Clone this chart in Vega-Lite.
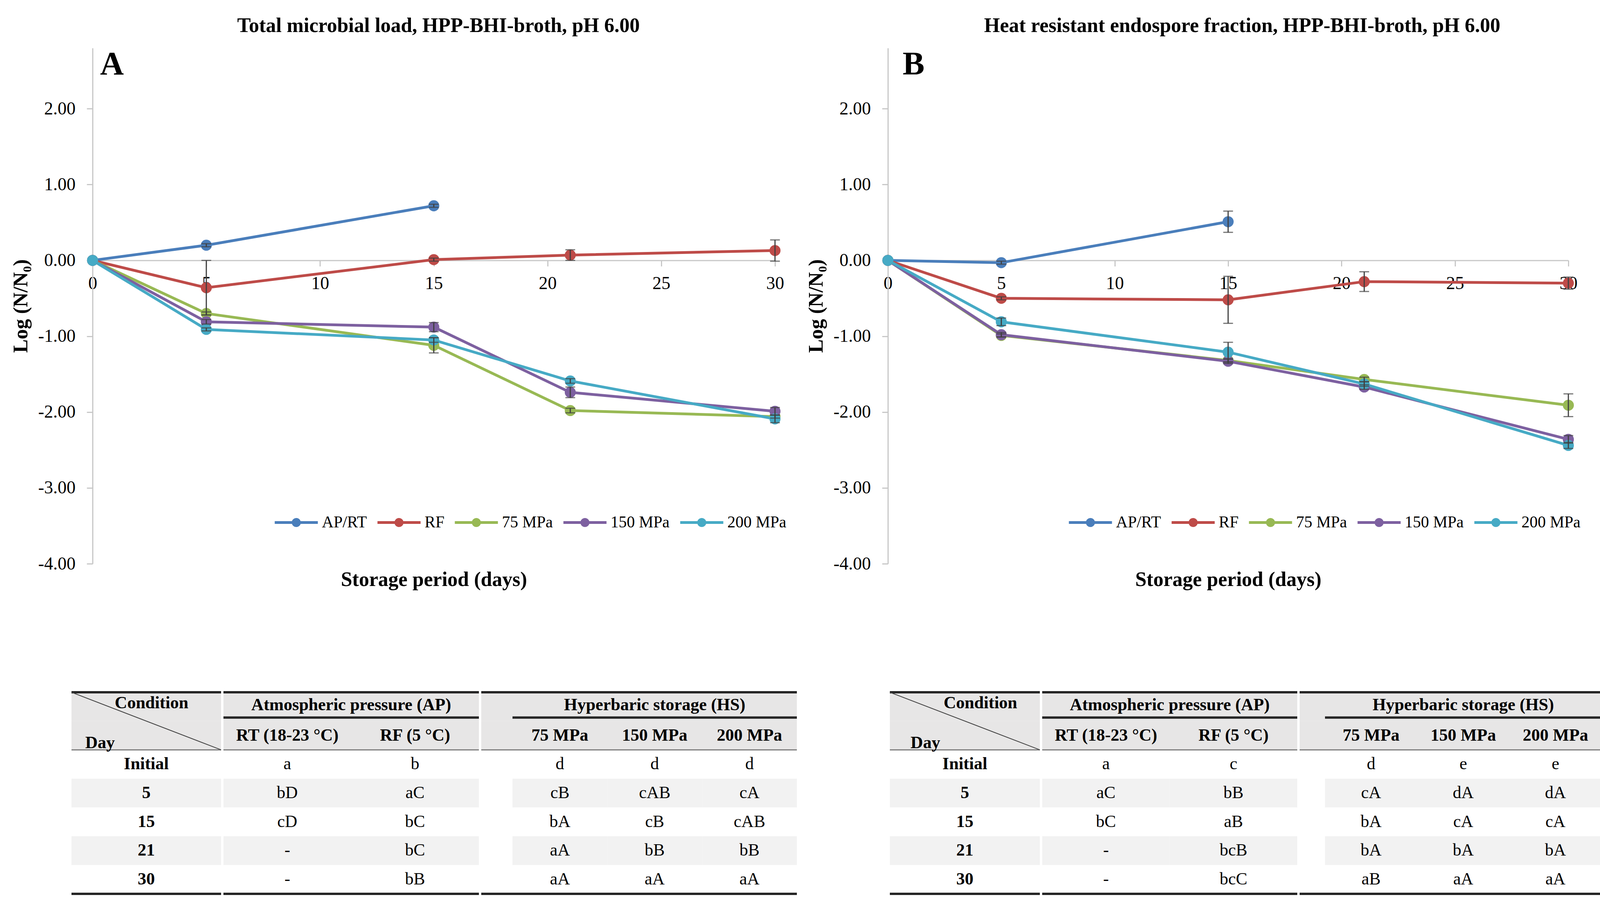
{
  "$schema": "https://vega.github.io/schema/vega-lite/v6.json",
  "background": "white",
  "padding": {"left": 27, "top": 40, "right": 5, "bottom": 5},
  "datasets": {
    "A": [
      {"day": 0, "cond": "AP/RT", "v": 0, "e": 0},
      {"day": 5, "cond": "AP/RT", "v": 0.20, "e": 0.02},
      {"day": 15, "cond": "AP/RT", "v": 0.72, "e": 0.02},
      {"day": 0, "cond": "RF", "v": 0, "e": 0},
      {"day": 5, "cond": "RF", "v": -0.36, "e": 0.36},
      {"day": 15, "cond": "RF", "v": 0.01, "e": 0.02},
      {"day": 21, "cond": "RF", "v": 0.07, "e": 0.07},
      {"day": 30, "cond": "RF", "v": 0.13, "e": 0.14},
      {"day": 0, "cond": "75 MPa", "v": 0, "e": 0},
      {"day": 5, "cond": "75 MPa", "v": -0.70, "e": 0.02},
      {"day": 15, "cond": "75 MPa", "v": -1.12, "e": 0.10},
      {"day": 21, "cond": "75 MPa", "v": -1.98, "e": 0.03},
      {"day": 30, "cond": "75 MPa", "v": -2.06, "e": 0.02},
      {"day": 0, "cond": "150 MPa", "v": 0, "e": 0},
      {"day": 5, "cond": "150 MPa", "v": -0.81, "e": 0.03},
      {"day": 15, "cond": "150 MPa", "v": -0.88, "e": 0.06},
      {"day": 21, "cond": "150 MPa", "v": -1.74, "e": 0.07},
      {"day": 30, "cond": "150 MPa", "v": -1.99, "e": 0.05},
      {"day": 0, "cond": "200 MPa", "v": 0, "e": 0},
      {"day": 5, "cond": "200 MPa", "v": -0.91, "e": 0.02},
      {"day": 15, "cond": "200 MPa", "v": -1.05, "e": 0.03},
      {"day": 21, "cond": "200 MPa", "v": -1.59, "e": 0.03},
      {"day": 30, "cond": "200 MPa", "v": -2.09, "e": 0.05}
    ],
    "B": [
      {"day": 0, "cond": "AP/RT", "v": 0, "e": 0},
      {"day": 5, "cond": "AP/RT", "v": -0.03, "e": 0.02},
      {"day": 15, "cond": "AP/RT", "v": 0.51, "e": 0.14},
      {"day": 0, "cond": "RF", "v": 0, "e": 0},
      {"day": 5, "cond": "RF", "v": -0.50, "e": 0.02},
      {"day": 15, "cond": "RF", "v": -0.52, "e": 0.31},
      {"day": 21, "cond": "RF", "v": -0.28, "e": 0.13},
      {"day": 30, "cond": "RF", "v": -0.30, "e": 0.08},
      {"day": 0, "cond": "75 MPa", "v": 0, "e": 0},
      {"day": 5, "cond": "75 MPa", "v": -0.99, "e": 0.02},
      {"day": 15, "cond": "75 MPa", "v": -1.32, "e": 0.02},
      {"day": 21, "cond": "75 MPa", "v": -1.57, "e": 0.03},
      {"day": 30, "cond": "75 MPa", "v": -1.91, "e": 0.15},
      {"day": 0, "cond": "150 MPa", "v": 0, "e": 0},
      {"day": 5, "cond": "150 MPa", "v": -0.98, "e": 0.03},
      {"day": 15, "cond": "150 MPa", "v": -1.33, "e": 0.03},
      {"day": 21, "cond": "150 MPa", "v": -1.67, "e": 0.03},
      {"day": 30, "cond": "150 MPa", "v": -2.36, "e": 0.05},
      {"day": 0, "cond": "200 MPa", "v": 0, "e": 0},
      {"day": 5, "cond": "200 MPa", "v": -0.81, "e": 0.05},
      {"day": 15, "cond": "200 MPa", "v": -1.21, "e": 0.13},
      {"day": 21, "cond": "200 MPa", "v": -1.63, "e": 0.03},
      {"day": 30, "cond": "200 MPa", "v": -2.44, "e": 0.04}
    ],
    "tA": [
      {"row": "h2", "col": "RT", "text": "RT (18-23 °C)"},
      {"row": "h2", "col": "RF", "text": "RF (5 °C)"},
      {"row": "h2", "col": "75 MPa", "text": "75 MPa"},
      {"row": "h2", "col": "150 MPa", "text": "150 MPa"},
      {"row": "h2", "col": "200 MPa", "text": "200 MPa"},
      {"row": "Initial", "col": "Day", "text": "Initial"},
      {"row": "Initial", "col": "RT", "text": "a"},
      {"row": "Initial", "col": "RF", "text": "b"},
      {"row": "Initial", "col": "75 MPa", "text": "d"},
      {"row": "Initial", "col": "150 MPa", "text": "d"},
      {"row": "Initial", "col": "200 MPa", "text": "d"},
      {"row": "5", "col": "Day", "text": "5"},
      {"row": "5", "col": "RT", "text": "bD"},
      {"row": "5", "col": "RF", "text": "aC"},
      {"row": "5", "col": "75 MPa", "text": "cB"},
      {"row": "5", "col": "150 MPa", "text": "cAB"},
      {"row": "5", "col": "200 MPa", "text": "cA"},
      {"row": "15", "col": "Day", "text": "15"},
      {"row": "15", "col": "RT", "text": "cD"},
      {"row": "15", "col": "RF", "text": "bC"},
      {"row": "15", "col": "75 MPa", "text": "bA"},
      {"row": "15", "col": "150 MPa", "text": "cB"},
      {"row": "15", "col": "200 MPa", "text": "cAB"},
      {"row": "21", "col": "Day", "text": "21"},
      {"row": "21", "col": "RT", "text": "-"},
      {"row": "21", "col": "RF", "text": "bC"},
      {"row": "21", "col": "75 MPa", "text": "aA"},
      {"row": "21", "col": "150 MPa", "text": "bB"},
      {"row": "21", "col": "200 MPa", "text": "bB"},
      {"row": "30", "col": "Day", "text": "30"},
      {"row": "30", "col": "RT", "text": "-"},
      {"row": "30", "col": "RF", "text": "bB"},
      {"row": "30", "col": "75 MPa", "text": "aA"},
      {"row": "30", "col": "150 MPa", "text": "aA"},
      {"row": "30", "col": "200 MPa", "text": "aA"}
    ],
    "tB": [
      {"row": "h2", "col": "RT", "text": "RT (18-23 °C)"},
      {"row": "h2", "col": "RF", "text": "RF (5 °C)"},
      {"row": "h2", "col": "75 MPa", "text": "75 MPa"},
      {"row": "h2", "col": "150 MPa", "text": "150 MPa"},
      {"row": "h2", "col": "200 MPa", "text": "200 MPa"},
      {"row": "Initial", "col": "Day", "text": "Initial"},
      {"row": "Initial", "col": "RT", "text": "a"},
      {"row": "Initial", "col": "RF", "text": "c"},
      {"row": "Initial", "col": "75 MPa", "text": "d"},
      {"row": "Initial", "col": "150 MPa", "text": "e"},
      {"row": "Initial", "col": "200 MPa", "text": "e"},
      {"row": "5", "col": "Day", "text": "5"},
      {"row": "5", "col": "RT", "text": "aC"},
      {"row": "5", "col": "RF", "text": "bB"},
      {"row": "5", "col": "75 MPa", "text": "cA"},
      {"row": "5", "col": "150 MPa", "text": "dA"},
      {"row": "5", "col": "200 MPa", "text": "dA"},
      {"row": "15", "col": "Day", "text": "15"},
      {"row": "15", "col": "RT", "text": "bC"},
      {"row": "15", "col": "RF", "text": "aB"},
      {"row": "15", "col": "75 MPa", "text": "bA"},
      {"row": "15", "col": "150 MPa", "text": "cA"},
      {"row": "15", "col": "200 MPa", "text": "cA"},
      {"row": "21", "col": "Day", "text": "21"},
      {"row": "21", "col": "RT", "text": "-"},
      {"row": "21", "col": "RF", "text": "bcB"},
      {"row": "21", "col": "75 MPa", "text": "bA"},
      {"row": "21", "col": "150 MPa", "text": "bA"},
      {"row": "21", "col": "200 MPa", "text": "bA"},
      {"row": "30", "col": "Day", "text": "30"},
      {"row": "30", "col": "RT", "text": "-"},
      {"row": "30", "col": "RF", "text": "bcC"},
      {"row": "30", "col": "75 MPa", "text": "aB"},
      {"row": "30", "col": "150 MPa", "text": "aA"},
      {"row": "30", "col": "200 MPa", "text": "aA"}
    ]
  },
  "spacing": 260,
  "resolve": {"legend": {"color": "independent"}},
  "vconcat": [
    {
      "spacing": 49,
      "resolve": {"legend": {"color": "independent"}},
      "hconcat": [
        {
          "width": 1747,
          "height": 1320,
          "title": {"text": "Total microbial load, HPP-BHI-broth, pH 6.00", "anchor": "middle", "frame": "group", "font": "Liberation Serif", "fontSize": 52, "fontWeight": "bold", "color": "#000000", "offset": 30, "dx": 12},
          "data": {"name": "A"},
          "resolve": {"axis": {"x": "independent"}},
          "layer": [
            {
              "mark": {"type": "line", "strokeWidth": 7},
              "encoding": {
                "x": {"field": "day", "type": "quantitative", "scale": {"domain": [0, 30], "nice": false, "zero": false},
                  "axis": {"orient": "bottom", "offset": -776.5, "values": [0, 5, 10, 15, 20, 25, 30], "title": null, "labelPadding": 22, "labelFlush": false, "labelOverlap": false}},
                "y": {"field": "v", "type": "quantitative", "title": "Log (N/N₀)", "scale": {"domain": [-4, 2.8], "nice": false, "zero": false},
                  "axis": {"values": [-4, -3, -2, -1, 0, 1, 2], "labelExpr": "replace(format(datum.value, '.2f'), '\u2212', '-')", "labelPadding": 29, "titlePadding": 17, "labelFlush": false, "labelOverlap": false}},
                "stroke": {"field": "cond", "type": "nominal", "scale": {"domain": ["AP/RT", "RF", "75 MPa", "150 MPa", "200 MPa"], "range": ["#4a7ebb", "#be4b48", "#98b954", "#7d60a0", "#46aac5"]}, "legend": null}
              }
            },
            {
              "mark": {"type": "point", "filled": true, "size": 800, "opacity": 1},
              "encoding": {
                "x": {"field": "day", "type": "quantitative", "axis": {"orient": "bottom", "title": "Storage period (days)", "labels": false, "ticks": false, "domain": false, "titlePadding": 15}},
                "y": {"field": "v", "type": "quantitative", "title": "Log (N/N₀)"},
                "color": {"field": "cond", "type": "nominal", "scale": {"domain": ["AP/RT", "RF", "75 MPa", "150 MPa", "200 MPa"], "range": ["#4a7ebb", "#be4b48", "#98b954", "#7d60a0", "#46aac5"]},
                  "legend": {"title": null, "orient": "none", "legendX": 466, "legendY": 1159, "direction": "horizontal", "symbolType": "M-1,-0.065H1V0.065H-1ZM0.21,0A0.21,0.21,0,1,1,-0.21,0A0.21,0.21,0,1,1,0.21,0Z", "symbolSize": 12170, "symbolStrokeWidth": 0, "labelFont": "Liberation Serif", "labelFontSize": 41.5, "labelColor": "#000000", "columnPadding": 26, "labelOffset": 10, "labelLimit": 400}}
              }
            },
            {
              "transform": [{"filter": "datum.e > 0"}],
              "mark": {"type": "errorbar", "ticks": true, "color": "#404040", "thickness": 3, "size": 25},
              "encoding": {
                "x": {"field": "day", "type": "quantitative", "axis": null},
                "y": {"field": "v", "type": "quantitative", "title": "Log (N/N₀)"},
                "yError": {"field": "e"}
              }
            },
            {
              "data": {"values": [{"k": 1}]},
              "mark": {"type": "text", "text": "A", "font": "Liberation Serif", "fontSize": 84, "fontWeight": "bold", "align": "left", "baseline": "middle", "color": "#000000"},
              "encoding": {
                "x": {"datum": 0.33, "type": "quantitative", "axis": null},
                "y": {"datum": 2.58, "type": "quantitative"}
              }
            }
          ]
        },
        {
          "width": 1742,
          "height": 1320,
          "title": {"text": "Heat resistant endospore fraction, HPP-BHI-broth, pH 6.00", "anchor": "middle", "frame": "group", "font": "Liberation Serif", "fontSize": 52, "fontWeight": "bold", "color": "#000000", "offset": 30, "dx": 36},
          "data": {"name": "B"},
          "resolve": {"axis": {"x": "independent"}},
          "layer": [
            {
              "mark": {"type": "line", "strokeWidth": 7},
              "encoding": {
                "x": {"field": "day", "type": "quantitative", "scale": {"domain": [0, 30], "nice": false, "zero": false},
                  "axis": {"orient": "bottom", "offset": -776.5, "values": [0, 5, 10, 15, 20, 25, 30], "title": null, "labelPadding": 22, "labelFlush": false, "labelOverlap": false}},
                "y": {"field": "v", "type": "quantitative", "title": "Log (N/N₀)", "scale": {"domain": [-4, 2.8], "nice": false, "zero": false},
                  "axis": {"values": [-4, -3, -2, -1, 0, 1, 2], "labelExpr": "replace(format(datum.value, '.2f'), '\u2212', '-')", "labelPadding": 29, "titlePadding": 17, "labelFlush": false, "labelOverlap": false}},
                "stroke": {"field": "cond", "type": "nominal", "scale": {"domain": ["AP/RT", "RF", "75 MPa", "150 MPa", "200 MPa"], "range": ["#4a7ebb", "#be4b48", "#98b954", "#7d60a0", "#46aac5"]}, "legend": null}
              }
            },
            {
              "mark": {"type": "point", "filled": true, "size": 800, "opacity": 1},
              "encoding": {
                "x": {"field": "day", "type": "quantitative", "axis": {"orient": "bottom", "title": "Storage period (days)", "labels": false, "ticks": false, "domain": false, "titlePadding": 15}},
                "y": {"field": "v", "type": "quantitative", "title": "Log (N/N₀)"},
                "color": {"field": "cond", "type": "nominal", "scale": {"domain": ["AP/RT", "RF", "75 MPa", "150 MPa", "200 MPa"], "range": ["#4a7ebb", "#be4b48", "#98b954", "#7d60a0", "#46aac5"]},
                  "legend": {"title": null, "orient": "none", "legendX": 463, "legendY": 1159, "direction": "horizontal", "symbolType": "M-1,-0.065H1V0.065H-1ZM0.21,0A0.21,0.21,0,1,1,-0.21,0A0.21,0.21,0,1,1,0.21,0Z", "symbolSize": 12170, "symbolStrokeWidth": 0, "labelFont": "Liberation Serif", "labelFontSize": 41.5, "labelColor": "#000000", "columnPadding": 26, "labelOffset": 10, "labelLimit": 400}}
              }
            },
            {
              "transform": [{"filter": "datum.e > 0"}],
              "mark": {"type": "errorbar", "ticks": true, "color": "#404040", "thickness": 3, "size": 25},
              "encoding": {
                "x": {"field": "day", "type": "quantitative", "axis": null},
                "y": {"field": "v", "type": "quantitative", "title": "Log (N/N₀)"},
                "yError": {"field": "e"}
              }
            },
            {
              "data": {"values": [{"k": 1}]},
              "mark": {"type": "text", "text": "B", "font": "Liberation Serif", "fontSize": 84, "fontWeight": "bold", "align": "left", "baseline": "middle", "color": "#000000"},
              "encoding": {
                "x": {"datum": 0.65, "type": "quantitative", "axis": null},
                "y": {"datum": 2.58, "type": "quantitative"}
              }
            }
          ]
        }
      ]
    },
    {
      "spacing": 232,
      "hconcat": [
        {
          "spacing": 0,
          "hconcat": [
            {
              "width": 329, "height": 516,
              "data": {"name": "tA"},
              "layer": [
                {"data": {"values": [{"row": "h1"}, {"row": "h2"}]}, "mark": {"type": "rect", "color": "#e7e6e6"},
                  "encoding": {"x": {"datum": "Day", "type": "nominal", "bandPosition": -0.1641, "scale": {"domain": ["Day"], "paddingInner": 0, "paddingOuter": 0}}, "x2": {"datum": "Day", "bandPosition": 1},
                    "y": {"field": "row", "type": "nominal", "scale": {"domain": ["h1", "h2", "Initial", "5", "15", "21", "30"], "paddingInner": 0, "paddingOuter": 0}}}},
                {"transform": [{"filter": {"field": "row", "oneOf": ["5", "21"]}}, {"filter": {"field": "col", "equal": "Day"}}],
                  "mark": {"type": "rect", "color": "#f2f2f2"},
                  "encoding": {"x": {"datum": "Day", "type": "nominal", "bandPosition": -0.1641}, "x2": {"datum": "Day", "bandPosition": 1}, "y": {"field": "row", "type": "nominal"}}},
                {"data": {"values": [{"k": 1}]}, "mark": {"type": "rule", "color": "#262626", "strokeWidth": 6},
                  "encoding": {"x": {"datum": "Day", "type": "nominal", "bandPosition": -0.1641}, "x2": {"datum": "Day", "bandPosition": 1}, "y": {"datum": "h1", "type": "nominal", "bandPosition": 0}}},
                {"data": {"values": [{"k": 1}]}, "mark": {"type": "rule", "color": "#262626", "strokeWidth": 6},
                  "encoding": {"x": {"datum": "Day", "type": "nominal", "bandPosition": -0.1641}, "x2": {"datum": "Day", "bandPosition": 1}, "y": {"datum": "30", "type": "nominal", "bandPosition": 1}}},
                {"data": {"values": [{"k": 1}]}, "mark": {"type": "rule", "color": "#7f7f7f", "strokeWidth": 3},
                  "encoding": {"x": {"datum": "Day", "type": "nominal", "bandPosition": -0.1641}, "x2": {"datum": "Day", "bandPosition": 1}, "y": {"datum": "h2", "type": "nominal", "bandPosition": 1}}},
                {"data": {"values": [{"k": 1}]}, "mark": {"type": "rule", "color": "#404040", "strokeWidth": 2},
                  "encoding": {"x": {"datum": "Day", "type": "nominal", "bandPosition": -0.1641}, "x2": {"datum": "Day", "bandPosition": 1}, "y": {"datum": "h1", "type": "nominal", "bandPosition": 0}, "y2": {"datum": "h2", "bandPosition": 1}}},
                {"data": {"values": [{"k": 1}]}, "mark": {"type": "text", "text": "Condition", "fontWeight": "bold", "fontSize": 44},
                  "encoding": {"x": {"datum": "Day", "type": "nominal", "bandPosition": 0.459}, "y": {"datum": "h1", "type": "nominal", "bandPosition": 0.38}}},
                {"data": {"values": [{"k": 1}]}, "mark": {"type": "text", "text": "Day", "fontWeight": "bold", "fontSize": 44},
                  "encoding": {"x": {"datum": "Day", "type": "nominal", "bandPosition": 0.058}, "y": {"datum": "h2", "type": "nominal", "bandPosition": 0.77}}},
                {"transform": [{"filter": {"field": "col", "equal": "Day"}}],
                  "mark": {"type": "text", "fontWeight": "bold", "fontSize": 44},
                  "encoding": {"x": {"field": "col", "type": "nominal", "bandPosition": 0.418}, "y": {"field": "row", "type": "nominal"}, "text": {"field": "text"}}}
              ]
            },
            {
              "width": 654, "height": 516,
              "data": {"name": "tA"},
              "layer": [
                {"data": {"values": [{"row": "h1"}, {"row": "h2"}]}, "mark": {"type": "rect", "color": "#e7e6e6"},
                  "encoding": {"y": {"field": "row", "type": "nominal", "scale": {"domain": ["h1", "h2", "Initial", "5", "15", "21", "30"], "paddingInner": 0, "paddingOuter": 0}}}},
                {"transform": [{"filter": {"field": "row", "oneOf": ["5", "21"]}}, {"filter": {"field": "col", "oneOf": ["RT", "RF"]}}],
                  "mark": {"type": "rect", "color": "#f2f2f2"},
                  "encoding": {"x": {"field": "col", "type": "nominal", "scale": {"domain": ["RT", "RF"], "paddingInner": 0, "paddingOuter": 0}}, "y": {"field": "row", "type": "nominal"}}},
                {"data": {"values": [{"k": 1}]}, "mark": {"type": "rule", "color": "#262626", "strokeWidth": 6}, "encoding": {"y": {"datum": "h1", "type": "nominal", "bandPosition": 0}}},
                {"data": {"values": [{"k": 1}]}, "mark": {"type": "rule", "color": "#262626", "strokeWidth": 6}, "encoding": {"y": {"datum": "30", "type": "nominal", "bandPosition": 1}}},
                {"data": {"values": [{"k": 1}]}, "mark": {"type": "rule", "color": "#7f7f7f", "strokeWidth": 3}, "encoding": {"y": {"datum": "h2", "type": "nominal", "bandPosition": 1}}},
                {"data": {"values": [{"k": 1}]}, "mark": {"type": "rule", "color": "#262626", "strokeWidth": 6},
                  "encoding": {"x": {"datum": "RT", "type": "nominal", "bandPosition": 0}, "x2": {"datum": "RF", "bandPosition": 1}, "y": {"datum": "h1", "type": "nominal", "bandPosition": 0.88}}},
                {"data": {"values": [{"k": 1}]}, "mark": {"type": "text", "text": "Atmospheric pressure (AP)", "fontWeight": "bold", "fontSize": 44},
                  "encoding": {"x": {"datum": "RT", "type": "nominal", "bandPosition": 1}, "y": {"datum": "h1", "type": "nominal", "bandPosition": 0.45}}},
                {"transform": [{"filter": {"field": "col", "oneOf": ["RT", "RF"]}}, {"filter": {"field": "row", "equal": "h2"}}],
                  "mark": {"type": "text", "fontWeight": "bold", "fontSize": 44},
                  "encoding": {"x": {"field": "col", "type": "nominal"}, "y": {"field": "row", "type": "nominal"}, "text": {"field": "text"}}},
                {"transform": [{"filter": {"field": "col", "oneOf": ["RT", "RF"]}}, {"filter": "datum.row != 'h2'"}],
                  "mark": {"type": "text", "fontSize": 44},
                  "encoding": {"x": {"field": "col", "type": "nominal"}, "y": {"field": "row", "type": "nominal"}, "text": {"field": "text"}}}
              ]
            },
            {
              "width": 808, "height": 516,
              "data": {"name": "tA"},
              "layer": [
                {"data": {"values": [{"row": "h1"}, {"row": "h2"}]}, "mark": {"type": "rect", "color": "#e7e6e6"},
                  "encoding": {"y": {"field": "row", "type": "nominal", "scale": {"domain": ["h1", "h2", "Initial", "5", "15", "21", "30"], "paddingInner": 0, "paddingOuter": 0}}}},
                {"transform": [{"filter": {"field": "row", "oneOf": ["5", "21"]}}, {"filter": {"field": "col", "oneOf": ["75 MPa", "150 MPa", "200 MPa"]}}],
                  "mark": {"type": "rect", "color": "#f2f2f2"},
                  "encoding": {"x": {"field": "col", "type": "nominal", "scale": {"domain": ["75 MPa", "150 MPa", "200 MPa"], "paddingInner": 0, "paddingOuter": 0.1648, "align": 1}}, "y": {"field": "row", "type": "nominal"}}},
                {"data": {"values": [{"k": 1}]}, "mark": {"type": "rule", "color": "#262626", "strokeWidth": 6}, "encoding": {"y": {"datum": "h1", "type": "nominal", "bandPosition": 0}}},
                {"data": {"values": [{"k": 1}]}, "mark": {"type": "rule", "color": "#262626", "strokeWidth": 6}, "encoding": {"y": {"datum": "30", "type": "nominal", "bandPosition": 1}}},
                {"data": {"values": [{"k": 1}]}, "mark": {"type": "rule", "color": "#7f7f7f", "strokeWidth": 3}, "encoding": {"y": {"datum": "h2", "type": "nominal", "bandPosition": 1}}},
                {"data": {"values": [{"k": 1}]}, "mark": {"type": "rule", "color": "#262626", "strokeWidth": 6},
                  "encoding": {"x": {"datum": "75 MPa", "type": "nominal", "bandPosition": 0}, "x2": {"datum": "200 MPa", "bandPosition": 1}, "y": {"datum": "h1", "type": "nominal", "bandPosition": 0.88}}},
                {"data": {"values": [{"k": 1}]}, "mark": {"type": "text", "text": "Hyperbaric storage (HS)", "fontWeight": "bold", "fontSize": 44},
                  "encoding": {"x": {"datum": "150 MPa", "type": "nominal", "bandPosition": 0.5}, "y": {"datum": "h1", "type": "nominal", "bandPosition": 0.45}}},
                {"transform": [{"filter": {"field": "col", "oneOf": ["75 MPa", "150 MPa", "200 MPa"]}}, {"filter": {"field": "row", "equal": "h2"}}],
                  "mark": {"type": "text", "fontWeight": "bold", "fontSize": 44},
                  "encoding": {"x": {"field": "col", "type": "nominal"}, "y": {"field": "row", "type": "nominal"}, "text": {"field": "text"}}},
                {"transform": [{"filter": {"field": "col", "oneOf": ["75 MPa", "150 MPa", "200 MPa"]}}, {"filter": "datum.row != 'h2'"}],
                  "mark": {"type": "text", "fontSize": 44},
                  "encoding": {"x": {"field": "col", "type": "nominal"}, "y": {"field": "row", "type": "nominal"}, "text": {"field": "text"}}}
              ]
            }
          ]
        },
        {
          "spacing": 0,
          "hconcat": [
            {
              "width": 384, "height": 516,
              "data": {"name": "tB"},
              "layer": [
                {"data": {"values": [{"row": "h1"}, {"row": "h2"}]}, "mark": {"type": "rect", "color": "#e7e6e6"},
                  "encoding": {"y": {"field": "row", "type": "nominal", "scale": {"domain": ["h1", "h2", "Initial", "5", "15", "21", "30"], "paddingInner": 0, "paddingOuter": 0}}}},
                {"transform": [{"filter": {"field": "row", "oneOf": ["5", "21"]}}, {"filter": {"field": "col", "equal": "Day"}}],
                  "mark": {"type": "rect", "color": "#f2f2f2"},
                  "encoding": {"x": {"field": "col", "type": "nominal", "scale": {"domain": ["Day"], "paddingInner": 0, "paddingOuter": 0}}, "y": {"field": "row", "type": "nominal"}}},
                {"data": {"values": [{"k": 1}]}, "mark": {"type": "rule", "color": "#262626", "strokeWidth": 6}, "encoding": {"y": {"datum": "h1", "type": "nominal", "bandPosition": 0}}},
                {"data": {"values": [{"k": 1}]}, "mark": {"type": "rule", "color": "#262626", "strokeWidth": 6}, "encoding": {"y": {"datum": "30", "type": "nominal", "bandPosition": 1}}},
                {"data": {"values": [{"k": 1}]}, "mark": {"type": "rule", "color": "#7f7f7f", "strokeWidth": 3}, "encoding": {"y": {"datum": "h2", "type": "nominal", "bandPosition": 1}}},
                {"data": {"values": [{"k": 1}]}, "mark": {"type": "rule", "color": "#404040", "strokeWidth": 2},
                  "encoding": {"x": {"datum": "Day", "type": "nominal", "bandPosition": 0}, "x2": {"datum": "Day", "bandPosition": 1}, "y": {"datum": "h1", "type": "nominal", "bandPosition": 0}, "y2": {"datum": "h2", "bandPosition": 1}}},
                {"data": {"values": [{"k": 1}]}, "mark": {"type": "text", "text": "Condition", "fontWeight": "bold", "fontSize": 44},
                  "encoding": {"x": {"datum": "Day", "type": "nominal", "bandPosition": 0.604}, "y": {"datum": "h1", "type": "nominal", "bandPosition": 0.38}}},
                {"data": {"values": [{"k": 1}]}, "mark": {"type": "text", "text": "Day", "fontWeight": "bold", "fontSize": 44},
                  "encoding": {"x": {"datum": "Day", "type": "nominal", "bandPosition": 0.237}, "y": {"datum": "h2", "type": "nominal", "bandPosition": 0.77}}},
                {"transform": [{"filter": {"field": "col", "equal": "Day"}}],
                  "mark": {"type": "text", "fontWeight": "bold", "fontSize": 44},
                  "encoding": {"x": {"field": "col", "type": "nominal"}, "y": {"field": "row", "type": "nominal"}, "text": {"field": "text"}}}
              ]
            },
            {
              "width": 653, "height": 516,
              "data": {"name": "tB"},
              "layer": [
                {"data": {"values": [{"row": "h1"}, {"row": "h2"}]}, "mark": {"type": "rect", "color": "#e7e6e6"},
                  "encoding": {"y": {"field": "row", "type": "nominal", "scale": {"domain": ["h1", "h2", "Initial", "5", "15", "21", "30"], "paddingInner": 0, "paddingOuter": 0}}}},
                {"transform": [{"filter": {"field": "row", "oneOf": ["5", "21"]}}, {"filter": {"field": "col", "oneOf": ["RT", "RF"]}}],
                  "mark": {"type": "rect", "color": "#f2f2f2"},
                  "encoding": {"x": {"field": "col", "type": "nominal", "scale": {"domain": ["RT", "RF"], "paddingInner": 0, "paddingOuter": 0}}, "y": {"field": "row", "type": "nominal"}}},
                {"data": {"values": [{"k": 1}]}, "mark": {"type": "rule", "color": "#262626", "strokeWidth": 6}, "encoding": {"y": {"datum": "h1", "type": "nominal", "bandPosition": 0}}},
                {"data": {"values": [{"k": 1}]}, "mark": {"type": "rule", "color": "#262626", "strokeWidth": 6}, "encoding": {"y": {"datum": "30", "type": "nominal", "bandPosition": 1}}},
                {"data": {"values": [{"k": 1}]}, "mark": {"type": "rule", "color": "#7f7f7f", "strokeWidth": 3}, "encoding": {"y": {"datum": "h2", "type": "nominal", "bandPosition": 1}}},
                {"data": {"values": [{"k": 1}]}, "mark": {"type": "rule", "color": "#262626", "strokeWidth": 6},
                  "encoding": {"x": {"datum": "RT", "type": "nominal", "bandPosition": 0}, "x2": {"datum": "RF", "bandPosition": 1}, "y": {"datum": "h1", "type": "nominal", "bandPosition": 0.88}}},
                {"data": {"values": [{"k": 1}]}, "mark": {"type": "text", "text": "Atmospheric pressure (AP)", "fontWeight": "bold", "fontSize": 44},
                  "encoding": {"x": {"datum": "RT", "type": "nominal", "bandPosition": 1}, "y": {"datum": "h1", "type": "nominal", "bandPosition": 0.45}}},
                {"transform": [{"filter": {"field": "col", "oneOf": ["RT", "RF"]}}, {"filter": {"field": "row", "equal": "h2"}}],
                  "mark": {"type": "text", "fontWeight": "bold", "fontSize": 44},
                  "encoding": {"x": {"field": "col", "type": "nominal"}, "y": {"field": "row", "type": "nominal"}, "text": {"field": "text"}}},
                {"transform": [{"filter": {"field": "col", "oneOf": ["RT", "RF"]}}, {"filter": "datum.row != 'h2'"}],
                  "mark": {"type": "text", "fontSize": 44},
                  "encoding": {"x": {"field": "col", "type": "nominal"}, "y": {"field": "row", "type": "nominal"}, "text": {"field": "text"}}}
              ]
            },
            {
              "width": 773, "height": 516,
              "data": {"name": "tB"},
              "layer": [
                {"data": {"values": [{"row": "h1"}, {"row": "h2"}]}, "mark": {"type": "rect", "color": "#e7e6e6"},
                  "encoding": {"y": {"field": "row", "type": "nominal", "scale": {"domain": ["h1", "h2", "Initial", "5", "15", "21", "30"], "paddingInner": 0, "paddingOuter": 0}}}},
                {"transform": [{"filter": {"field": "row", "oneOf": ["5", "21"]}}, {"filter": {"field": "col", "oneOf": ["75 MPa", "150 MPa", "200 MPa"]}}],
                  "mark": {"type": "rect", "color": "#f2f2f2"},
                  "encoding": {"x": {"field": "col", "type": "nominal", "scale": {"domain": ["75 MPa", "150 MPa", "200 MPa"], "paddingInner": 0, "paddingOuter": 0.1377, "align": 1}}, "y": {"field": "row", "type": "nominal"}}},
                {"data": {"values": [{"k": 1}]}, "mark": {"type": "rule", "color": "#262626", "strokeWidth": 6}, "encoding": {"y": {"datum": "h1", "type": "nominal", "bandPosition": 0}}},
                {"data": {"values": [{"k": 1}]}, "mark": {"type": "rule", "color": "#262626", "strokeWidth": 6}, "encoding": {"y": {"datum": "30", "type": "nominal", "bandPosition": 1}}},
                {"data": {"values": [{"k": 1}]}, "mark": {"type": "rule", "color": "#7f7f7f", "strokeWidth": 3}, "encoding": {"y": {"datum": "h2", "type": "nominal", "bandPosition": 1}}},
                {"data": {"values": [{"k": 1}]}, "mark": {"type": "rule", "color": "#262626", "strokeWidth": 6},
                  "encoding": {"x": {"datum": "75 MPa", "type": "nominal", "bandPosition": 0}, "x2": {"datum": "200 MPa", "bandPosition": 1}, "y": {"datum": "h1", "type": "nominal", "bandPosition": 0.88}}},
                {"data": {"values": [{"k": 1}]}, "mark": {"type": "text", "text": "Hyperbaric storage (HS)", "fontWeight": "bold", "fontSize": 44},
                  "encoding": {"x": {"datum": "150 MPa", "type": "nominal", "bandPosition": 0.5}, "y": {"datum": "h1", "type": "nominal", "bandPosition": 0.45}}},
                {"transform": [{"filter": {"field": "col", "oneOf": ["75 MPa", "150 MPa", "200 MPa"]}}, {"filter": {"field": "row", "equal": "h2"}}],
                  "mark": {"type": "text", "fontWeight": "bold", "fontSize": 44},
                  "encoding": {"x": {"field": "col", "type": "nominal"}, "y": {"field": "row", "type": "nominal"}, "text": {"field": "text"}}},
                {"transform": [{"filter": {"field": "col", "oneOf": ["75 MPa", "150 MPa", "200 MPa"]}}, {"filter": "datum.row != 'h2'"}],
                  "mark": {"type": "text", "fontSize": 44},
                  "encoding": {"x": {"field": "col", "type": "nominal"}, "y": {"field": "row", "type": "nominal"}, "text": {"field": "text"}}}
              ]
            }
          ]
        }
      ]
    }
  ],
  "config": {
    "font": "Liberation Serif",
    "view": {"stroke": null},
    "axis": {"labelFont": "Liberation Serif", "labelFontSize": 46, "labelColor": "#000000", "titleFont": "Liberation Serif", "titleFontSize": 52, "titleFontWeight": "bold", "titleColor": "#000000", "domainColor": "#c8c8c8", "domainWidth": 3, "tickColor": "#c8c8c8", "tickWidth": 3, "tickSize": 15, "grid": false},
    "axisBand": {"disable": true},
    "text": {"font": "Liberation Serif", "fontSize": 44, "color": "#000000"}
  }
}
